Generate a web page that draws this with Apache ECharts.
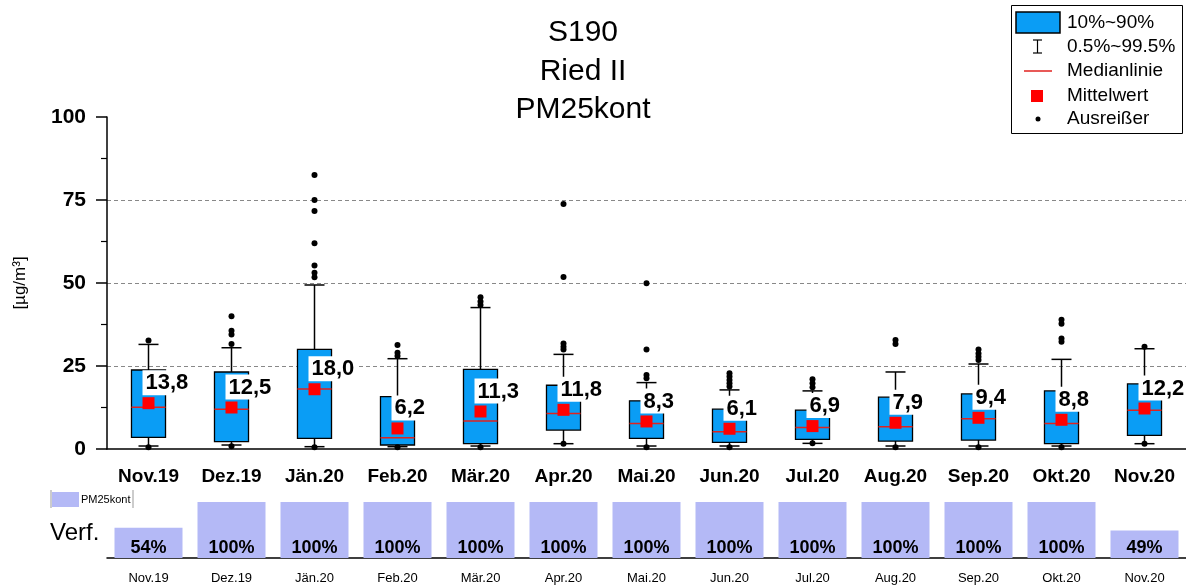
<!DOCTYPE html>
<html>
<head>
<meta charset="utf-8">
<script src="https://cdn.jsdelivr.net/npm/echarts@6/dist/echarts.min.js"></script>
<style>html,body{margin:0;padding:0;background:#fff}#c{width:1186px;height:587px}</style>
</head>
<body>
<div id="c"></div>
<script>
const categories = ['Nov.19','Dez.19','Jän.20','Feb.20','Mär.20','Apr.20','Mai.20','Jun.20','Jul.20','Aug.20','Sep.20','Okt.20','Nov.20'];
const p005   = [0.9, 1.2, 0.7, 0.7, 0.9, 1.6, 0.9, 0.9, 1.7, 0.9, 0.9, 0.9, 1.6];
const p10    = [3.5, 2.2, 3.2, 1.2, 1.6, 5.7, 3.2, 2.0, 2.9, 2.4, 2.7, 1.6, 4.1];
const median = [12.6, 12.0, 18.1, 3.4, 8.4, 10.7, 7.7, 5.2, 6.5, 6.7, 9.1, 7.7, 11.7];
const p90    = [23.8, 23.2, 30.0, 15.8, 24.0, 19.2, 14.5, 12.0, 11.7, 15.6, 16.6, 17.5, 19.6];
const p995   = [31.5, 30.5, 49.4, 27.2, 42.6, 28.5, 20.0, 17.8, 17.5, 23.2, 25.6, 27.0, 30.2];
const means  = [13.8, 12.5, 18.0, 6.2, 11.3, 11.8, 8.3, 6.1, 6.9, 7.9, 9.4, 8.8, 12.2];
const outliers = [
  [0, 32.7], [0, 0.5],
  [1, 40.0], [1, 35.6], [1, 34.5], [1, 31.6], [1, 0.8],
  [2, 82.5], [2, 75.0], [2, 71.7], [2, 62.0], [2, 55.3], [2, 53.1], [2, 51.7], [2, 0.5],
  [3, 31.3], [3, 29.0], [3, 28.0], [3, 0.5],
  [4, 45.7], [4, 44.4], [4, 43.4], [4, 0.5],
  [5, 73.8], [5, 51.8], [5, 31.8], [5, 30.8], [5, 30.0], [5, 1.6],
  [6, 49.9], [6, 30.0], [6, 22.3], [6, 21.3], [6, 0.5],
  [7, 22.8], [7, 21.8], [7, 20.8], [7, 19.8], [7, 18.8], [7, 0.5],
  [8, 21.0], [8, 19.8], [8, 18.6], [8, 1.7],
  [9, 32.8], [9, 31.6], [9, 0.5],
  [10, 30.0], [10, 28.8], [10, 27.8], [10, 26.8], [10, 0.5],
  [11, 38.9], [11, 37.7], [11, 33.3], [11, 32.3], [11, 0.5],
  [12, 30.8], [12, 1.6]
];
const availability = [54, 100, 100, 100, 100, 100, 100, 100, 100, 100, 100, 100, 49];
const yTicks = [0, 25, 50, 75, 100];

const FONT = 'Arial, "Liberation Sans", sans-serif';
const BOX = '#0A9DF5';
const BAR = '#B4B9F6';

const boxData = categories.map((c, i) => [i, p005[i], p10[i], median[i], p90[i], p995[i]]);
const meanData = means.map((m, i) => [i, m]);

const chart = echarts.init(document.getElementById('c'));
chart.setOption({
  animation: false,
  backgroundColor: '#fff',
  grid: [
    {left: 107, right: 0, top: 117, height: 332},
    {left: 107, right: 0, top: 502, height: 56}
  ],
  xAxis: [
    {type: 'category', gridIndex: 0, data: categories,
     axisLine: {lineStyle: {color: '#000', width: 1.5}},
     axisTick: {alignWithLabel: true, length: 11, lineStyle: {color: '#000', width: 1.5}},
     axisLabel: {color: '#000', fontFamily: FONT, fontWeight: 'bold', fontSize: 19, margin: 18, interval: 0}},
    {type: 'category', gridIndex: 1, data: categories,
     axisLine: {lineStyle: {color: '#000', width: 1.5}},
     axisTick: {alignWithLabel: true, length: 9, lineStyle: {color: '#000', width: 1.5}},
     axisLabel: {color: '#000', fontFamily: FONT, fontSize: 13, margin: 14, interval: 0}},
    {type: 'category', gridIndex: 1, data: categories,
     axisLine: {show: false},
     axisTick: {length: 5, lineStyle: {color: '#000', width: 1.2}},
     axisLabel: {show: false}}
  ],
  yAxis: [
    {type: 'value', gridIndex: 0, min: yTicks[0], max: yTicks[yTicks.length - 1], interval: 25,
     name: '[µg/m³]', nameLocation: 'middle', nameGap: 78, nameRotate: 90,
     nameTextStyle: {color: '#000', fontFamily: FONT, fontSize: 17},
     axisLine: {show: true, lineStyle: {color: '#000', width: 1.5}},
     axisTick: {show: true, length: 11, lineStyle: {color: '#000', width: 1.5}},
     minorTick: {show: true, splitNumber: 2, length: 6, lineStyle: {color: '#000', width: 1.2}},
     axisLabel: {color: '#000', fontFamily: FONT, fontWeight: 'bold', fontSize: 21, margin: 21},
     splitLine: {show: true, showMinLine: false, showMaxLine: false, lineStyle: {color: '#888', type: [4, 3], width: 1.2}}},
    {type: 'value', gridIndex: 1, min: 0, max: 100, show: false, splitLine: {show: false}}
  ],
  series: [
    {
      type: 'custom', xAxisIndex: 0, yAxisIndex: 0, z: 2,
      data: boxData,
      renderItem: function (params, api) {
        const x = api.value(0);
        const cx = api.coord([x, 0])[0];
        const yLow = api.coord([x, api.value(1)])[1];
        const y10 = api.coord([x, api.value(2)])[1];
        const yMed = api.coord([x, api.value(3)])[1];
        const y90 = api.coord([x, api.value(4)])[1];
        const yHigh = api.coord([x, api.value(5)])[1];
        const band = api.size([1, 0])[0];
        const bw = band * 0.41;
        const cw = 20;
        const ls = {stroke: '#000', lineWidth: 1.5};
        return {
          type: 'group',
          children: [
            {type: 'line', shape: {x1: cx, y1: yLow, x2: cx, y2: yHigh}, style: ls},
            {type: 'line', shape: {x1: cx - cw / 2, y1: yHigh, x2: cx + cw / 2, y2: yHigh}, style: ls},
            {type: 'line', shape: {x1: cx - cw / 2, y1: yLow, x2: cx + cw / 2, y2: yLow}, style: ls},
            {type: 'rect', shape: {x: cx - bw / 2, y: y90, width: bw, height: y10 - y90},
             style: {fill: BOX, stroke: '#000', lineWidth: 1.3}},
            {type: 'line', shape: {x1: cx - bw / 2, y1: yMed, x2: cx + bw / 2, y2: yMed},
             style: {stroke: '#E0221F', lineWidth: 1.5}}
          ]
        };
      }
    },
    {
      type: 'scatter', xAxisIndex: 0, yAxisIndex: 0, z: 3,
      data: outliers, symbol: 'circle', symbolSize: 6,
      itemStyle: {color: '#000', opacity: 1}
    },
    {
      type: 'scatter', xAxisIndex: 0, yAxisIndex: 0, z: 4,
      data: meanData, symbol: 'rect', symbolSize: 12,
      itemStyle: {color: '#F00', opacity: 1},
      label: {
        show: true, position: [0, -27],
        formatter: p => p.value[1].toFixed(1).replace('.', ','),
        color: '#000', opacity: 1, fontFamily: FONT, fontWeight: 'bold', fontSize: 22,
        backgroundColor: '#fff', padding: [2, 3, 1, 3]
      }
    },
    {
      type: 'bar', xAxisIndex: 1, yAxisIndex: 1,
      data: availability, barWidth: 68,
      itemStyle: {color: BAR},
      label: {show: true, position: 'insideBottom', distance: 1, formatter: '{c}%',
        color: '#000', fontFamily: FONT, fontWeight: 'bold', fontSize: 18}
    }
  ],
  graphic: [
    {type: 'text', x: 583, y: 33, style: {text: 'S190', font: '30px ' + FONT, fill: '#000', align: 'center', verticalAlign: 'middle'}},
    {type: 'text', x: 583, y: 72, style: {text: 'Ried II', font: '30px ' + FONT, fill: '#000', align: 'center', verticalAlign: 'middle'}},
    {type: 'text', x: 583, y: 110, style: {text: 'PM25kont', font: '30px ' + FONT, fill: '#000', align: 'center', verticalAlign: 'middle'}},

    {type: 'rect', shape: {x: 1011.5, y: 5.5, width: 171, height: 128}, style: {fill: '#fff', stroke: '#000', lineWidth: 1}, z: 10},
    {type: 'rect', shape: {x: 1016, y: 12, width: 44, height: 21}, style: {fill: BOX, stroke: '#000', lineWidth: 1.5}, z: 11},
    {type: 'text', x: 1067, y: 23, style: {text: '10%~90%', font: '19px ' + FONT, fill: '#000', verticalAlign: 'middle'}, z: 11},
    {type: 'line', shape: {x1: 1037.5, y1: 40, x2: 1037.5, y2: 53}, style: {stroke: '#000', lineWidth: 1.2}, z: 11},
    {type: 'line', shape: {x1: 1033, y1: 40, x2: 1042, y2: 40}, style: {stroke: '#000', lineWidth: 1.2}, z: 11},
    {type: 'line', shape: {x1: 1033, y1: 53, x2: 1042, y2: 53}, style: {stroke: '#000', lineWidth: 1.2}, z: 11},
    {type: 'text', x: 1067, y: 47, style: {text: '0.5%~99.5%', font: '19px ' + FONT, fill: '#000', verticalAlign: 'middle'}, z: 11},
    {type: 'line', shape: {x1: 1024, y1: 71, x2: 1052, y2: 71}, style: {stroke: '#E0221F', lineWidth: 1.5}, z: 11},
    {type: 'text', x: 1067, y: 71, style: {text: 'Medianlinie', font: '19px ' + FONT, fill: '#000', verticalAlign: 'middle'}, z: 11},
    {type: 'rect', shape: {x: 1031, y: 90, width: 12, height: 12}, style: {fill: '#F00'}, z: 11},
    {type: 'text', x: 1067, y: 96, style: {text: 'Mittelwert', font: '19px ' + FONT, fill: '#000', verticalAlign: 'middle'}, z: 11},
    {type: 'circle', shape: {cx: 1038, cy: 119, r: 2.5}, style: {fill: '#000'}, z: 11},
    {type: 'text', x: 1067, y: 119, style: {text: 'Ausreißer', font: '19px ' + FONT, fill: '#000', verticalAlign: 'middle'}, z: 11},

    {type: 'line', shape: {x1: 51, y1: 490, x2: 51, y2: 508}, style: {stroke: '#999', lineWidth: 1}},
    {type: 'rect', shape: {x: 52, y: 492, width: 27, height: 15}, style: {fill: BAR}},
    {type: 'text', x: 81, y: 499.5, style: {text: 'PM25kont', font: '11px ' + FONT, fill: '#000', verticalAlign: 'middle'}},
    {type: 'line', shape: {x1: 133, y1: 490, x2: 133, y2: 508}, style: {stroke: '#999', lineWidth: 1}},
    {type: 'text', x: 50, y: 533, style: {text: 'Verf.', font: '24px ' + FONT, fill: '#000', verticalAlign: 'middle'}}
  ]
});
</script>
</body>
</html>
